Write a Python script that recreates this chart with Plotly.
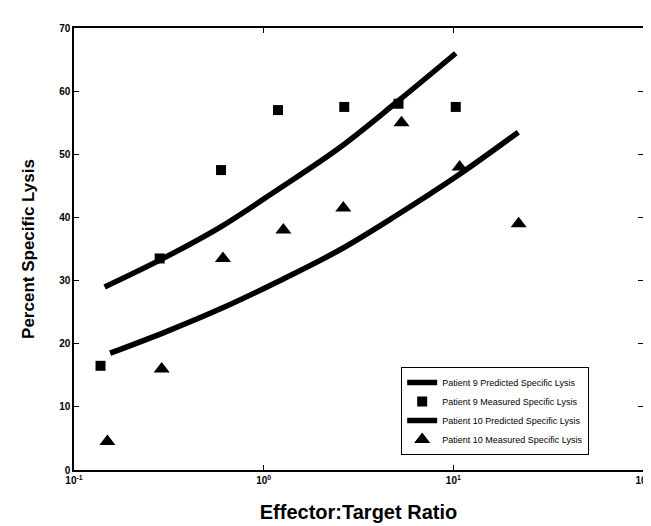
import plotly.graph_objects as go

# Patient 9 predicted curve
p9_pred_x = [0.145, 0.29, 0.6, 1.2, 2.5, 5.0, 10.3]
p9_pred_y = [29.0, 33.4, 38.6, 44.5, 51.0, 58.2, 66.0]
# Patient 9 measured
p9_meas_x = [0.138, 0.283, 0.596, 1.19, 2.66, 5.14, 10.3]
p9_meas_y = [16.5, 33.5, 47.5, 57.0, 57.5, 58.0, 57.5]
# Patient 10 predicted curve
p10_pred_x = [0.155, 0.3, 0.6, 1.2, 2.5, 5.0, 10.5, 22.0]
p10_pred_y = [18.5, 21.8, 25.6, 29.9, 34.8, 40.3, 46.6, 53.5]
# Patient 10 measured
p10_meas_x = [0.150, 0.290, 0.61, 1.27, 2.63, 5.33, 10.8, 22.1]
p10_meas_y = [4.5, 16.0, 33.5, 38.0, 41.5, 55.0, 48.0, 39.0]

x_tickvals = [0.1, 1, 10, 100]
x_ticktext = ["<b>10<sup>-1</sup></b>", "<b>10<sup>0</sup></b>", "<b>10<sup>1</sup></b>", "<b>10<sup>2</sup></b>"]
y_tickvals = [0, 10, 20, 30, 40, 50, 60, 70]
y_ticktext = ["<b>%d</b>" % v for v in y_tickvals]

names = ["Patient 9 Predicted Specific Lysis", "Patient 9 Measured Specific Lysis",
         "Patient 10 Predicted Specific Lysis", "Patient 10 Measured Specific Lysis"]

fig = go.Figure()
fig.add_trace(go.Scatter(x=p9_pred_x, y=p9_pred_y, mode="lines", name=names[0],
                         line=dict(color="black", width=5.5, shape="spline")))
fig.add_trace(go.Scatter(x=p9_meas_x, y=p9_meas_y, mode="markers", name=names[1],
                         marker=dict(symbol="square", color="black", size=10)))
fig.add_trace(go.Scatter(x=p10_pred_x, y=p10_pred_y, mode="lines", name=names[2],
                         line=dict(color="black", width=5.5, shape="spline")))
fig.add_trace(go.Scatter(x=p10_meas_x, y=p10_meas_y, mode="markers", name=names[3],
                         marker=dict(symbol="triangle-up", color="black", size=14)))

axis_common = dict(showline=True, linecolor="black", linewidth=1.5, mirror="allticks",
                   ticks="inside", ticklen=5, tickcolor="black", showgrid=False, zeroline=False,
                   tickfont=dict(family="Liberation Sans", size=10, color="black"))

fig.update_layout(
    width=651, height=526,
    margin=dict(l=66, r=8, t=20, b=64),
    paper_bgcolor="white", plot_bgcolor="white",
    font=dict(family="Liberation Sans", color="black"),
    xaxis=dict(type="log", range=[-1, 2], tickvals=x_tickvals, ticktext=x_ticktext,
               title=dict(text="<b>Effector:Target Ratio</b>", font=dict(size=20), standoff=20),
               **axis_common),
    yaxis=dict(range=[0, 70], tickvals=y_tickvals, ticktext=y_ticktext,
               title=dict(text="<b>Percent Specific Lysis</b>", font=dict(size=17), standoff=20),
               **axis_common),
    legend=dict(x=0.575, y=0.034, xanchor="left", yanchor="bottom",
                bgcolor="white", bordercolor="black", borderwidth=1,
                font=dict(size=9), tracegroupgap=0, itemwidth=30),
    showlegend=True,
)

fig.write_html("out.html")
